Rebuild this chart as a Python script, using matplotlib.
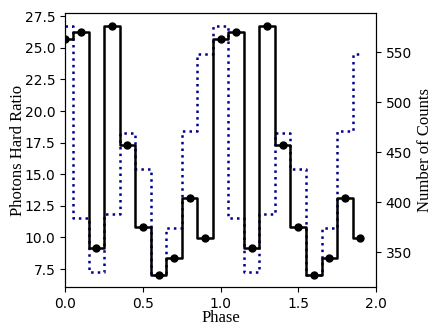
import numpy as np
import matplotlib
matplotlib.use('Agg')
import matplotlib.pyplot as plt

# faza i dane (dwa okresy)
phase = [0.0, 0.1, 0.2, 0.3, 0.4, 0.5, 0.6, 0.7, 0.8, 0.9,
         1.0, 1.1, 1.2, 1.3, 1.4, 1.5, 1.6, 1.7, 1.8, 1.9]
hard_ratio = [25.69, 26.29, 9.20, 26.74, 17.28, 10.84, 7.03, 8.37, 13.10, 9.97,
              25.69, 26.29, 9.20, 26.74, 17.28, 10.84, 7.03, 8.37, 13.10, 9.97]
counts = [576.5, 384.5, 330.5, 388.8, 469.9, 433.4, 327.5, 374.5, 471.5, 548.4,
          576.5, 384.5, 330.5, 388.8, 469.9, 433.4, 327.5, 374.5, 471.5, 548.4]

fig = plt.figure(figsize=(4.36, 3.35), dpi=100)
ax = fig.add_axes([0.150, 0.142, 0.712, 0.818])
ax2 = ax.twinx()

ax.step(phase, hard_ratio, where='mid', color='black', lw=1.8, zorder=3)
ax.plot(phase, hard_ratio, 'o', color='black', ms=5, zorder=4)
ax2.step(phase, counts, where='mid', color='#00008B', lw=1.8, ls=':')

ax.set_zorder(ax2.get_zorder() + 1)
ax.patch.set_visible(False)

ax.set_xlim(0.0, 2.0)
ax.set_xlabel('Phase', family='Liberation Serif', fontsize=12, labelpad=-1)
ax.set_ylabel('Photons Hard Ratio', family='Liberation Serif', fontsize=12, labelpad=-1)
ax2.set_ylabel('Number of Counts', family='Liberation Serif', fontsize=12, labelpad=4)
ax.tick_params(labelsize=10)
ax2.tick_params(labelsize=10)

fig.savefig('out.png', dpi=100)
